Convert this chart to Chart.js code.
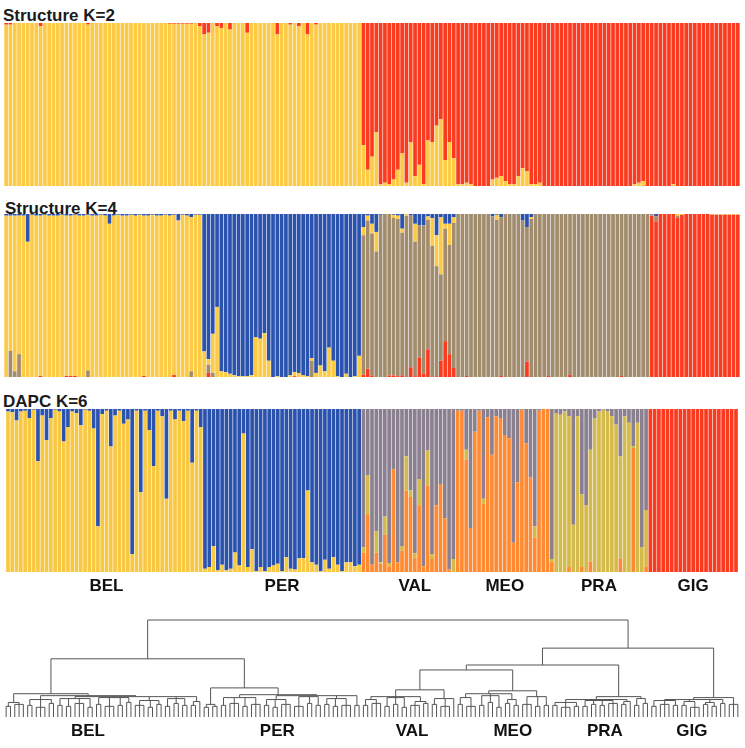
<!DOCTYPE html>
<html><head><meta charset="utf-8">
<script src="https://cdn.jsdelivr.net/npm/chart.js@4.4.1/dist/chart.umd.min.js"></script>
<style>
html,body{margin:0;padding:0;background:#fff;width:745px;height:748px;overflow:hidden}
#wrap{position:relative;width:745px;height:748px}
canvas{position:absolute}
.t{position:absolute;font:bold 17px "Liberation Sans",Arial,sans-serif;color:#1b1b1b;line-height:17px;white-space:nowrap}
</style></head><body><div id="wrap">
<div class="t" style="left:3px;top:7px">Structure K=2</div>
<div class="t" style="left:5px;top:200px">Structure K=4</div>
<div class="t" style="left:3px;top:393px">DAPC K=6</div>
<canvas id="c1" width="736" height="163" style="left:4px;top:23px"></canvas>
<canvas id="c2" width="736" height="163" style="left:4px;top:214px"></canvas>
<canvas id="c3" width="736" height="193" style="left:4px;top:409px"></canvas>
<canvas id="c4" width="736" height="132" style="left:4px;top:615px"></canvas>
</div>
<script>
// ---------------- DATA ----------------
const groups = ['BEL','PER','VAL','MEO','PRA','GIG'];
const groupSizes = [46,37,22,22,23,21];
const panelLabelIdx = [23,64,95,116,138,160];      // individual under each group label (DAPC panel)
const treeLabelPos = [19,63,94.3,117.7,139.1,159.3]; // leaf position under each label (dendrogram)
const R = null; // "remaining share" marker
function z(n){ return new Array(n).fill(0); }
function rest(n){ return new Array(n).fill(R); }

// Structure K=2  (yellow share; red = remainder)
const k2Yellow = [
 0.99,0.99,1,1,1,1,1,1,0.98,1, 1,1,1,1,1,1,1,1,1,0.99, 1,1,1,1,1,1,1,1,1,1, 1,1,1,1,1,1,1,1,0.995,0.995, 0.995,0.995,0.995,0.995,1,0.98,
 0.93,0.94,1,0.98,0.97,1,0.96,1,1,1, 0.94,1,1,1,1,1,1,0.93,1,1, 0.99,1,0.98,1,0.93,1,0.99,1,1,1, 1,1,1,1,1,1,1,
 0.25,0.10,0.18,0.33,0.01,0.02,0.01,0.04,0.10,0.20,0.02,0.27,0.06,0.13,0.01,0.28,0.27,0.37,0.41,0.16,0.27,0.17,
 0.01,0.01,0.02,0.01,0,0,0,0,0.04,0.05,0.06,0.03,0.01,0.01,0.06,0.11,0.09,0.01,0.01,0.02,0,0,
 0,0,0,0,0,0,0,0,0,0,0,0,0,0,0,0,0,0,0,0.01,0.02,0.03,0,
 0,0,0,0,0,0.01,0,0,0,0,0,0,0,0,0,0,0,0,0,0,0
];
const k2Red = rest(171);

// Structure K=4
const k4Red = [
 0,0,0,0,0,0,0,0,0.006,0, 0,0,0,0,0.006,0.006,0.006,0,0,0, 0,0,0,0,0,0,0,0,0,0, 0,0,0.006,0,0,0,0,0,0,0.012, 0,0,0,0,0,0,
 0,0.025,0,0,0,0,0,0,0,0, 0,0,0,0,0,0,0,0,0,0, 0,0.005,0,0,0,0,0,0,0,0, 0,0,0,0,0,0,0,
 0.015,0.05,0.01,0,0,0,0.01,0.01,0.005,0.01,0,0.06,0.005,0.12,0.02,0.17,0,0.005,0.10,0.22,0.14,0.055,
 0,0,0.006,0,0,0,0,0,0,0,0.006,0,0,0,0,0,0.095,0,0,0,0,0.006,
 0,0,0,0,0.012,0,0,0,0,0,0,0,0,0,0,0,0.006,0,0,0,0,0,0,
 ...rest(21)
];
const k4Tan = [
 0,0.16,0.035,0.14,0,0,0,0,0,0, 0,0,0,0,0,0,0,0,0,0.04, 0,0,0,0,0,0,0,0,0,0, 0,0,0,0,0,0,0,0,0,0, 0,0,0,0.035,0,0,
 0,0.05,0.025,0,0,0,0,0,0,0, 0,0,0,0,0,0,0,0,0,0, 0,0,0,0,0,0.10,0,0,0,0, 0,0,0,0,0,0,0,
 ...rest(22), ...rest(22), ...rest(23),
 0.01,0.03,0,0,0,0,0.01,0,0,0,0,0,0,0,0,0,0,0,0,0,0
];
const k4Yellow = [
 ...rest(46),
 0.157,0.035,0.24,0.43,0.035,0.03,0.02,0.01,0.005,0.005, 0.005,0.01,0.245,0.235,0.27,0.10,0,0.005,0,0, 0.01,0.025,0.025,0.01,0.005,0.015,0.025,0.07,0.035,0.18, 0.10,0.005,0,0.02,0,0.005,0.13,
 0.05,0.03,0.06,0.12,0,0,0,0.02,0.02,0.025,0.01,0,0.11,0,0,0.02,0.17,0.19,0.35,0.03,0.13,0.035,
 0,0,0,0,0,0,0,0,0,0.03,0,0,0,0,0,0,0,0.01,0,0,0,0,
 ...z(23),
 0,0,0,0,0,0,0.012,0.005,0,0,0,0,0,0,0.004,0.004,0.004,0.004,0.004,0.004,0.004
];
const k4Blue = [
 0.01,0.01,0.01,0.01,0.01,0.17,0.005,0.01,0.01,0.005, 0.01,0.01,0.01,0.005,0.01,0.01,0.005,0.01,0.01,0.005, 0.01,0.01,0.005,0.01,0.06,0.01,0.005,0.01,0.01,0.005, 0.01,0.005,0.01,0.01,0.005,0.01,0.01,0.005,0.01,0.005, 0.04,0.005,0.01,0.02,0.005,0.005,
 ...rest(37),
 0.08,0.01,0.06,0.11,0.005,0,0,0.005,0.01,0.09,0,0.01,0.06,0.07,0.07,0.015,0.025,0.13,0.02,0.06,0.06,0.02,
 0,0,0,0,0,0,0,0,0.015,0.005,0.02,0,0,0,0,0.04,0.08,0.02,0,0,0,0,
 ...z(23),
 0,0.015,0,0,0,0,0,0,0,0,0,0,0,0,0,0,0,0,0,0,0
];

// DAPC K=6
const dRed = [...z(46), ...z(37), ...z(22), ...z(22), ...z(23), ...rest(21)];
const dYellow = [
 ...rest(46),
 0.02,0.03,0.16,0.01,0.045,0.01,0.02,0.12,0.04,0.85, 0.03,0.14,0.005,0.03,0.005,0.03,0.04,0.05,0.005,0.09, 0.02,0.015,0.085,0.085,0.50,0.06,0.045,0.005,0.075,0.02, 0.09,0.045,0.005,0.06,0.06,0.035,0.045,
 ...z(22), ...z(22), ...z(23), ...z(21)
];
const dOrange = [
 ...z(46), ...z(37),
 0.12,0.35,0.045,0.12,0.05,0.23,0.035,0.63,0.06,0.13,0.50,0.46,0.085,0.41,0.035,0.53,0.08,0.41,0.54,0.33,0.015,0,
 ...rest(22),
 0.065,0,0,0,0.03,0,0,0.03,0,0.065,0,0,0,0,0,0,0.08,0,0,0.76,0,0,0.03,
 ...z(21)
];
const dOlive = [
 ...z(46), ...z(37),
 0.03,0.245,0,0.13,0.01,0.11,0.02,0,0,0.03,0.21,0.04,0.03,0.16,0,0.215,0.03,0,0,0,0,0.08,
 0,0,0.06,0,0,0,0.03,0,0,0,0,0,0,0,0,0,0,0,0.07,0,0,0,
 ...rest(23),
 ...z(21)
];
const dGray = [
 ...z(46), ...z(37),
 ...rest(22),
 0.01,0.01,0.25,0.73,0.14,0.01,0.55,0.05,0.28,0.045,0.055,0.16,0.18,0.82,0.45,0.005,0.21,0.42,0.72,0.01,0,0,
 0.92,0.025,0.035,0.015,0.045,0.71,0.045,0.525,0.59,0.25,0.055,0.015,0.005,0.015,0.045,0.095,0.29,0.045,0.085,0.23,0.085,0.85,0.62,
 ...z(21)
];
const dBlue = [
 0.015,0.02,0.07,0.015,0.01,0.055,0.005,0.32,0.04,0.19, 0.055,0.005,0.015,0.20,0.11,0.015,0.025,0.10,0.005,0.01, 0.12,0.72,0.03,0.01,0.23,0.04,0.01,0.09,0.065,0.89, 0.01,0.51,0.01,0.13,0.35,0.01,0.045,0.55,0.01,0.065, 0.01,0.075,0.01,0.33,0.01,0.11,
 ...rest(37),
 ...z(22), ...z(22), ...z(23), ...z(21)
];

// Dendrogram: node = [mergeHeight, child, child, ...], leaf = 0
const treeBEL = [24,
  [15,[11,0,0],[13,0,0,0]],
  [22,
    [18,[12,0,0],[10,0,0,0],[14,0,0]],
    [21,
      [19,[12,0,0],[11,0,0],[14,0,0,0],[10,0,0]],
      [20,[13,0,0],[11,0,0,0],[12,0,0],[15,0,0]],
      [17,[12,0,0,0],[10,0,0],[13,0,0]],
      [19,[11,0,0],[14,0,0],[12,0,0]],
      [16,[12,0,0],0]
    ]
  ]
];
const treePER = [30,
  [13,[10,0,0],[11,0,0]],
  [23,
    [20,[12,0,0],[14,0,0,0],[11,0,0],[13,0,0,0]],
    [22,
      [18,[12,0,0],[10,0,0],[13,0,0,0]],
      [21,[11,0,0,0],[14,0,0],[12,0,0]],
      [19,[13,0,0],[11,0,0],[12,0,0,0]],
      [12,0,0]
    ]
  ]
];
const treeVAL = [28,
  [21,
    [18,[12,0,0],[14,0,0,0]],
    [20,[11,0,0],[13,0,0],[10,0,0]],
    [16,[12,0,0,0],[14,0,0]]
  ],
  [19,[13,0,0],[11,0,0,0],0]
];
const treeMEO = [27,
  [24,
    [20,[13,0,0],[11,0,0,0]],
    [22,[12,0,0],[15,0,0],[10,0,0]],
    [18,[14,0,0],[12,0,0]]
  ],
  [21,[13,0,0,0],[11,0,0],[12,0,0]]
];
const treePRA = [21,
  [18,
    [15,[12,0,0],[10,0,0,0],[11,0,0]],
    [17,[11,0,0],[13,0,0],[12,0,0],[14,0,0,0]],
    [16,[13,0,0],0]
  ],
  [19,[12,0,0],[14,0,0]]
];
const treeGIG = [20,
  [18,
    [17,[11,0,0],[13,0,0,0],[12,0,0]],
    [16,[12,0,0],[10,0,0,0]],
    [15,[13,0,0],[11,0,0]],
    [14,0,0]
  ],
  [13,0,0,0]
];
const tree = [100, [60, treeBEL, treePER], [71, [53.6, [48.5, treeVAL, treeMEO], treePRA], treeGIG]];

// ---------------- DRAWING ----------------
const N = groupSizes.reduce((a,b)=>a+b,0);
const idxLabels = Array.from({length:N},(_,i)=>String(i));
const FONT = {family:'"Liberation Sans", Arial, sans-serif', size:17, weight:'bold'};

function resolve(comps){
  const out = comps.map(a=>a.slice());
  for(let i=0;i<N;i++){
    let s=0,k=-1;
    comps.forEach((a,j)=>{ if(a[i]===null) k=j; else s+=a[i]; });
    if(k>=0) out[k][i]=Math.max(0,1-s);
  }
  return out;
}

function barChart(id, comps, colors, labelIdx){
  const data = resolve(comps);
  const labelAt = {};
  if(labelIdx) labelIdx.forEach((v,g)=>{ labelAt[v]=groups[g]; });
  const xScale = {stacked:true, display:!!labelIdx,
     grid:{display:false, drawTicks:false}, border:{display:false},
     ticks:{autoSkip:false, maxRotation:0, minRotation:0, padding:4, font:FONT, color:'#111',
            callback:(v,i)=>labelAt[i]||''}};
  if(labelIdx) xScale.afterFit = s=>{ s.height=30; };
  new Chart(document.getElementById(id), {
    type:'bar',
    data:{labels:idxLabels, datasets:data.map((d,j)=>({data:d, backgroundColor:colors[j], borderWidth:0, categoryPercentage:1, barPercentage:0.86}))},
    options:{
      responsive:false, animation:false, events:[],
      layout:{padding:0},
      plugins:{legend:{display:false}, tooltip:{enabled:false}, title:{display:false}},
      scales:{ x:xScale, y:{stacked:true, display:false, min:0, max:1} }
    }
  });
}

const YEL='#FCCA45', RED='#FB3B20', BLU='#2B53AD', TAN='#A28C6E', GRY='#8B8090', ORA='#FF8A31', OLV='#D4B94B', YEL2='#F9C843';

barChart('c1', [k2Yellow, k2Red], [YEL, RED]);
barChart('c2', [k4Red, k4Tan, k4Yellow, k4Blue], [RED, TAN, YEL, BLU]);
barChart('c3', [dRed, dYellow, dOrange, dOlive, dGray, dBlue], [RED, YEL2, ORA, OLV, GRY, BLU], panelLabelIdx);

// dendrogram layout
const pts = [];
let leafCounter = 0;
function seg(x1,y1,x2,y2){ pts.push({x:x1,y:y1},{x:x2,y:y2},{x:x2,y:null}); }
function layout(node){
  if(node===0){ return {x:leafCounter++, h:0}; }
  const h=node[0];
  const kids=node.slice(1).map(layout);
  kids.forEach(k=>seg(k.x,k.h,k.x,h));
  seg(kids[0].x,h,kids[kids.length-1].x,h);
  return {x:(kids[0].x+kids[kids.length-1].x)/2, h};
}
layout(tree);

new Chart(document.getElementById('c4'), {
  type:'scatter',
  data:{datasets:[{data:pts, showLine:true, borderColor:'#555555', borderWidth:1, pointRadius:0, spanGaps:false, clip:false}]},
  options:{
    responsive:false, animation:false, events:[],
    layout:{padding:{top:5,left:0,right:0,bottom:0}},
    plugins:{legend:{display:false}, tooltip:{enabled:false}},
    scales:{
      x:{type:'linear', min:-0.5, max:N-0.5,
         afterBuildTicks:s=>{ s.ticks = treeLabelPos.map(v=>({value:v})); },
         afterFit:s=>{ s.height=30; },
         grid:{display:false, drawTicks:false}, border:{display:false},
         ticks:{autoSkip:false, maxRotation:0, minRotation:0, padding:4, font:FONT, color:'#111',
                callback:(v,i)=>groups[i]}},
      y:{display:false, min:0, max:100}
    }
  }
});
</script>
</body></html>
